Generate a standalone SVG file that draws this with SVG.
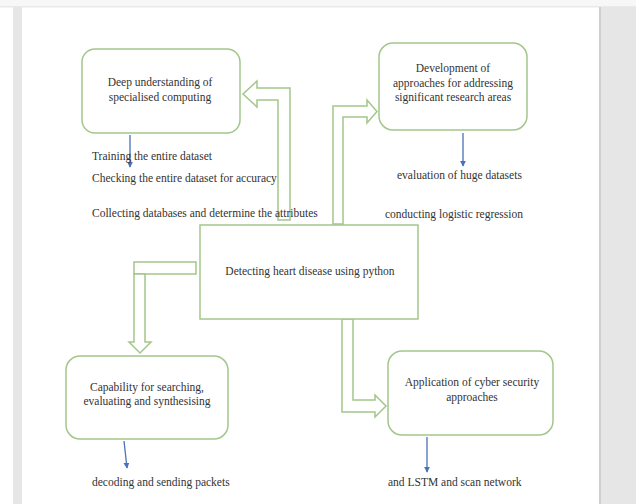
<svg xmlns="http://www.w3.org/2000/svg" width="636" height="504" viewBox="0 0 636 504">
<defs>
<style>
.box{fill:#fff;stroke:#a3c68a;stroke-width:1.5}
.harrow{fill:#fff;stroke:#a3c68a;stroke-width:1.5;stroke-linejoin:miter}
.t{font-family:"Liberation Serif","Times New Roman",serif;font-size:11.5px;fill:#333;dominant-baseline:central}
.c{text-anchor:middle}
.blue{stroke:#4a72b8;stroke-width:1.3;fill:none}
</style>
<marker id="ah" viewBox="0 0 8 8" refX="7" refY="4" markerWidth="6" markerHeight="6" orient="auto" markerUnits="userSpaceOnUse">
<path d="M0,0 L8,4 L0,8 z" fill="#4a72b8"/>
</marker>
</defs>
<rect x="0" y="0" width="636" height="504" fill="#fff"/>
<rect x="0" y="0" width="636" height="7" fill="#f7f7f7"/>
<rect x="0" y="6" width="636" height="1.5" fill="#e9e9e9"/>
<rect x="13" y="7" width="9" height="497" fill="#e6e6e6"/>
<rect x="599" y="7" width="37" height="497" fill="#e6e6e6"/>
<rect x="599" y="7" width="2" height="497" fill="#cfcfcf"/>

<g id="connectors">
<polygon class="harrow" points="290,220 290,88 257,88 257,81 243,94 257,107 257,100 278,100 278,220"/>
<polygon class="harrow" points="333,224 333,106 367,106 367,100 377,111.5 367,123 367,117 343,117 343,224"/>
<rect class="harrow" x="134" y="262" width="62" height="12"/>
<polygon class="harrow" points="134,274 134,342 129,342 140,353 151,342 145,342 145,274"/>
<polygon class="harrow" points="342,319 342,412 375,412 375,417 386,406 375,395 375,400 353,400 353,319"/>
<line class="blue" x1="130" y1="135" x2="130" y2="167" marker-end="url(#ah)"/>
<line class="blue" x1="463" y1="133" x2="463" y2="166" marker-end="url(#ah)"/>
<line class="blue" x1="124" y1="441" x2="127" y2="468" marker-end="url(#ah)"/>
<line class="blue" x1="427" y1="437" x2="427" y2="472" marker-end="url(#ah)"/>
</g>

<g id="node-deep">
<rect class="box" x="82" y="49" width="158" height="84" rx="13"/>
<text class="t c" x="160" y="82">Deep understanding of</text>
<text class="t c" x="160" y="97">specialised computing</text>
</g>
<g id="node-development">
<rect class="box" x="379" y="43" width="148" height="87" rx="14"/>
<text class="t c" x="453" y="68">Development of</text>
<text class="t c" x="453" y="83">approaches for addressing</text>
<text class="t c" x="453" y="97">significant research areas</text>
</g>
<g id="node-center">
<rect class="box" x="200" y="225" width="218" height="94"/>
<text class="t c" x="310" y="271">Detecting heart disease using python</text>
</g>
<g id="node-capability">
<rect class="box" x="66" y="356" width="162" height="83" rx="14"/>
<text class="t c" x="147" y="387">Capability for searching,</text>
<text class="t c" x="147" y="401">evaluating and synthesising</text>
</g>
<g id="node-application">
<rect class="box" x="388" y="351" width="165" height="84" rx="14"/>
<text class="t c" x="472" y="382">Application of cyber security</text>
<text class="t c" x="472" y="397">approaches</text>
</g>

<g id="labels">
<text class="t" x="92" y="156">Training the entire dataset</text>
<text class="t" x="92" y="178">Checking the entire dataset for accuracy</text>
<text class="t" x="92" y="213">Collecting databases and determine the attributes</text>
<text class="t" x="397" y="175">evaluation of huge datasets</text>
<text class="t" x="385" y="214">conducting logistic regression</text>
<text class="t" x="92" y="482">decoding and sending packets</text>
<text class="t" x="388" y="482">and LSTM and scan network</text>
</g>
</svg>
